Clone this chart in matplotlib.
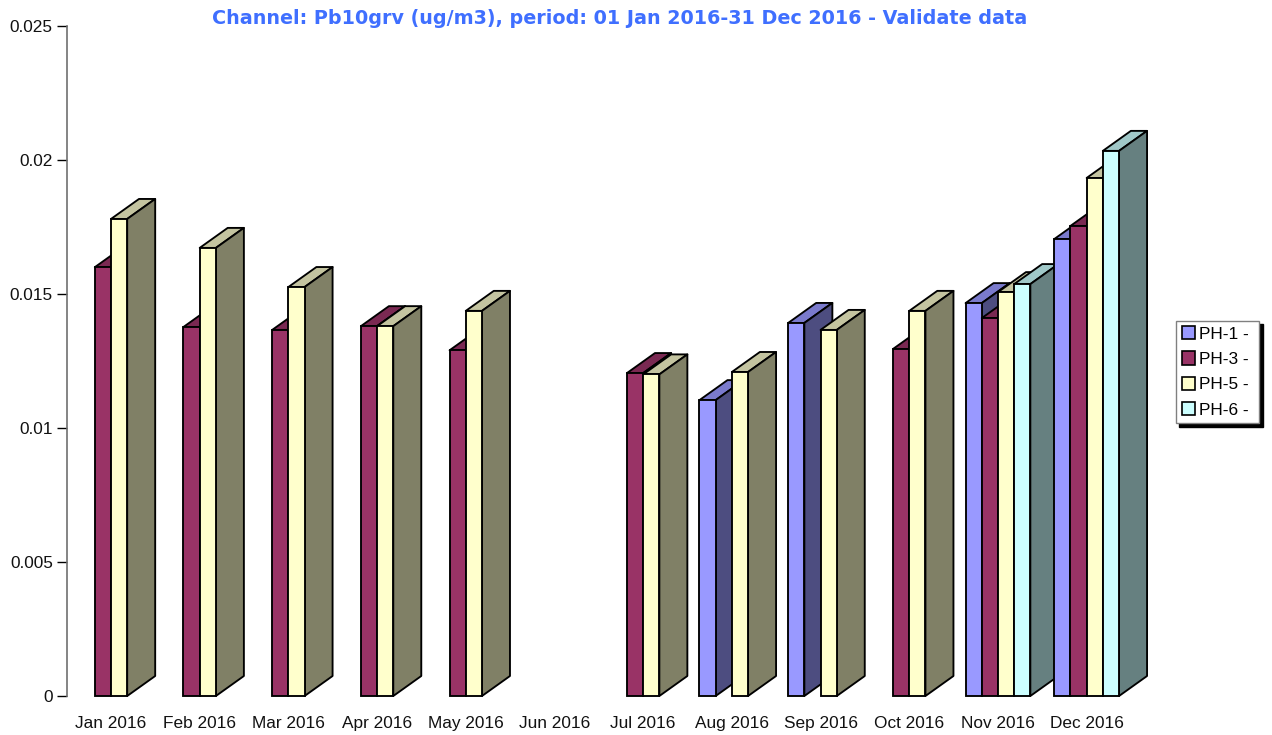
import matplotlib
matplotlib.use("Agg")
import matplotlib.pyplot as plt
from matplotlib.patches import Patch, Polygon

plt.rcParams['font.family'] = ['Liberation Sans', 'DejaVu Sans']

months = ["Jan 2016", "Feb 2016", "Mar 2016", "Apr 2016", "May 2016", "Jun 2016",
          "Jul 2016", "Aug 2016", "Sep 2016", "Oct 2016", "Nov 2016", "Dec 2016"]

# None = no data for that month
ph1 = [None, None, None, None, None, None, None, 0.01104, 0.01392, None, 0.01466, 0.01705]
ph3 = [0.0160, 0.01377, 0.01366, 0.0138, 0.0129, None, 0.01205, None, None, 0.01295, 0.0141, 0.01754]
ph5 = [0.0178, 0.01672, 0.01526, 0.0138, 0.01437, None, 0.0120, 0.01209, 0.01366, 0.01437, 0.01507, 0.01933]
ph6 = [None, None, None, None, None, None, None, None, None, None, 0.01537, 0.02034]

names = ["PH-1 - ", "PH-3 - ", "PH-5 - ", "PH-6 - "]
series = [ph1, ph3, ph5, ph6]
front = ["#9999FF", "#993366", "#FFFFCC", "#CCFFFF"]
top = ["#7A7ACC", "#7A2952", "#C4C4A0", "#A0C8C8"]
side = ["#4D4D80", "#4D1A33", "#808066", "#668080"]

yticks = [0, 0.005, 0.01, 0.015, 0.02, 0.025]
ylabels = ["0", "0.005", "0.01", "0.015", "0.02", "0.025"]

W, H = 1272, 735
fig = plt.figure(figsize=(W / 100, H / 100), dpi=100)
# axes box in pixels: left 67, right 1131, top 26, bottom 696
ax = fig.add_axes([67 / W, (H - 696) / H, (1131 - 67) / W, (696 - 26) / H])
ax.set_xlim(-0.496, 11.5)
ax.set_ylim(0, 0.025)

bw = 16.2 / 88.7   # bar width
dx = 28 / 88.7     # depth of the 3d effect
dy = 20 / 26800
lw = 1.35

z = 3
for m in range(len(months)):
    for s in range(len(series)):
        v = series[s][m]
        if v is None:
            continue
        x0 = m + (s - 2) * bw
        x1 = x0 + bw
        # top and side first, the front goes over them
        ax.add_patch(Polygon([(x0, v), (x0 + dx, v + dy), (x1 + dx, v + dy), (x1, v)],
                             fc=top[s], ec="black", lw=lw, zorder=z, clip_on=False, joinstyle="round"))
        ax.add_patch(Polygon([(x1, 0), (x1 + dx, dy), (x1 + dx, v + dy), (x1, v)],
                             fc=side[s], ec="black", lw=lw, zorder=z, clip_on=False, joinstyle="round"))
        ax.bar(x0, v, bw, align="edge", color=front[s], edgecolor="black", linewidth=lw,
               zorder=z + 0.5, clip_on=False)
        z += 1

for sp in ["top", "right", "bottom"]:
    ax.spines[sp].set_visible(False)
ax.spines["left"].set_color("#707070")
ax.spines["left"].set_linewidth(1.2)

ax.set_yticks(yticks)
ax.set_yticklabels(ylabels)
ax.set_xticks(range(len(months)))
ax.set_xticklabels(months)
ax.tick_params(axis="y", length=7.2, width=1, color="black", pad=3, labelsize=12.4, labelcolor="#111111")
ax.tick_params(axis="x", length=0, pad=14.5, labelsize=12.4, labelcolor="#111111")

fig.text(619.5 / W, 1 - 18 / H, "Channel: Pb10grv (ug/m3), period: 01 Jan 2016-31 Dec 2016 - Validate data",
         family="DejaVu Sans", fontweight="bold", fontsize=13.75, color="#3F6FFF", ha="center", va="center")

# legend
handles = [Patch(fc=front[i], ec="black", lw=1.2, label=names[i]) for i in range(4)]
fig.legend(handles=handles, loc="upper left", bbox_to_anchor=(1176 / W, 1 - 320.5 / H), borderaxespad=0,
           fontsize=12.4, handlelength=0.8, handleheight=0.8, handletextpad=0.24, labelspacing=0.57,
           borderpad=0.32, fancybox=False, framealpha=1, edgecolor="#808080",
           shadow={"color": "black", "alpha": 1, "ox": 2.4, "oy": -2.4})

fig.savefig("out.png", dpi=100)
